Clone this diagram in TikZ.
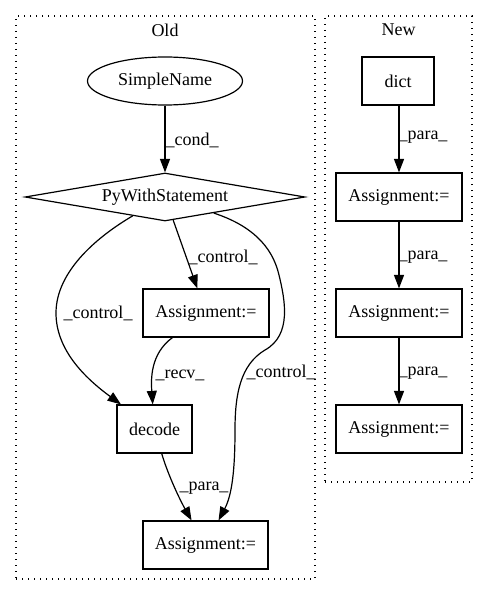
\documentclass[tikz,border=0pt]{standalone}
\usepackage{fontspec}
\setmainfont{Liberation Serif}
\usetikzlibrary{shapes.geometric,arrows.meta}
\begin{document}
\begin{tikzpicture}[x=1pt,y=-1pt,
  every node/.style={font=\fontsize{18}{22}\selectfont},
  box/.style={draw, line width=1.2pt, rectangle, minimum height=48pt, inner sep=0pt},
  ell/.style={draw, ellipse, line width=1.2pt, minimum width=155pt, minimum height=48pt, inner sep=0pt},
  dia/.style={draw, diamond, aspect=5.83, line width=1.2pt, minimum width=280pt, minimum height=48pt, inner sep=0pt},
  cluster/.style={draw, dash pattern=on 1.4pt off 4.6pt, line width=1.4pt, inner sep=0pt},
  edge/.style={draw, line width=1.2pt, -{Triangle[length=13.5pt,width=10pt]}},
  lab/.style={inner sep=0pt, anchor=center}
]
\useasboundingbox (0,0) rectangle (488,596);
% clusters
\node[cluster, minimum width=299pt, minimum height=563pt] (oldc) at (165.5,297.5) {};
\node[cluster, minimum width=147pt, minimum height=466pt] (newc) at (398.5,249) {};
\node (oldt) at (165,30) {Old};
\node (newt) at (398.5,30) {New};
% old nodes
\node[ell] (sn) at (165,81) {SimpleName};
\node[dia] (py) at (165,197) {PyWithStatement};
\node[box, minimum width=126pt] (a1) at (206,313) {Assignment:=};
\node[box, minimum width=75pt] (dec) at (154.5,429) {decode};
\node[box, minimum width=125pt] (a2) at (205.5,545) {Assignment:=};
% new nodes
\node[box, minimum width=72pt] (dict) at (398,81) {dict};
\node[box, minimum width=126pt] (n1) at (399,197) {Assignment:=};
\node[box, minimum width=126pt] (n2) at (399,313) {Assignment:=};
\node[box, minimum width=126pt] (n3) at (399,429) {Assignment:=};
% old edges
\draw[edge] (sn) -- (py);
\draw[edge] (py) -- (a1);
\draw[edge] (py) .. controls (100,235) and (56,270) .. (56,313)
  .. controls (56,350) and (85,378) .. (dec);
\draw[edge] (py) .. controls (250,225) and (272,245) .. (279,275)
  .. controls (285,300) and (292,335) .. (265,350)
  .. controls (240,365) and (235,395) .. (235,430)
  .. controls (235,470) and (232,495) .. (a2);
\draw[edge] (a1) .. controls (150,354) and (151,380) .. (dec);
\draw[edge] (dec) .. controls (168,475) and (180,500) .. (a2);
% new edges
\draw[edge] (dict) -- (n1 |- dict.south) -- (n1);
\draw[edge] (n1) -- (n2);
\draw[edge] (n2) -- (n3);
% labels
\node[lab] (l1) at (192,140) {\_cond\_};
\node[lab] (l2) at (223,257) {\_control\_};
\node[lab] (l3) at (98,313) {\_control\_};
\node[lab] (l4) at (281,372) {\_control\_};
\node[lab] (l5) at (180,375) {\_recv\_};
\node[lab] (l6) at (204,488) {\_para\_};
\node[lab] (l7) at (423,137) {\_para\_};
\node[lab] (l8) at (423,257) {\_para\_};
\node[lab] (l9) at (423,373) {\_para\_};
\end{tikzpicture}
\end{document}
